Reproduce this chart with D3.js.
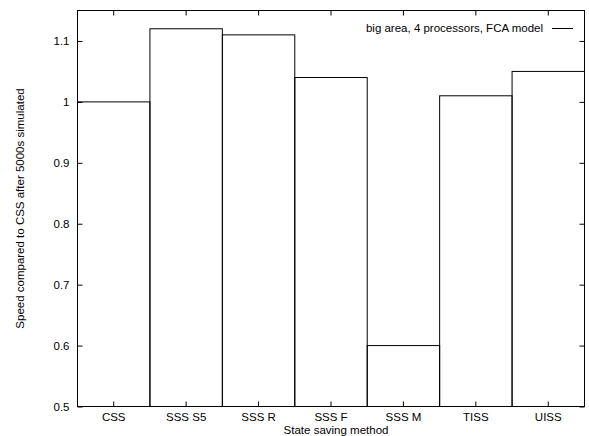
<!DOCTYPE html>
<html><head><meta charset="utf-8">
<script src="https://cdn.jsdelivr.net/npm/d3@7"></script>
<style>body{margin:0;background:#fff}text{font-family:"Liberation Sans",Arial,sans-serif;font-size:11.5px;fill:#000}</style>
</head><body><svg id="c" width="589" height="436"></svg>
<script>
const categories = ["CSS","SSS S5","SSS R","SSS F","SSS M","TISS","UISS"];
const values = [1.0,1.12,1.11,1.04,0.6,1.01,1.05];
const yTicks = [0.5,0.6,0.7,0.8,0.9,1,1.1];
const legendLabel = "big area, 4 processors, FCA model";

const svg = d3.select("#c");
const L=77.5, R=584.5, T=10.5, B=406.5;
const x = d3.scaleBand().domain(categories).range([L,R]).padding(0);
const y = d3.scaleLinear().domain([0.5,1.15]).range([B,T]);

// bars
svg.append("g").selectAll("rect").data(categories).join("rect")
  .attr("x",d=>x(d)).attr("width",x.bandwidth())
  .attr("y",(d,i)=>y(values[i])).attr("height",(d,i)=>B-y(values[i]))
  .attr("fill","none").attr("stroke","#000").attr("stroke-width",1);

const tl=5;
// left axis
const ya = d3.axisLeft(y).tickValues(yTicks).tickSize(-tl).tickPadding(8).tickFormat(d3.format("~g"));
const gl = svg.append("g").attr("transform",`translate(${L},0)`).call(ya);
gl.select(".domain").remove();
// right axis ticks
const gr = svg.append("g").attr("transform",`translate(${R},0)`).call(d3.axisRight(y).tickValues(yTicks).tickSize(-tl).tickFormat(""));
gr.select(".domain").remove();
// bottom axis
const xa = d3.axisBottom(x).tickSize(-tl).tickPadding(6);
const gb = svg.append("g").attr("transform",`translate(0,${B})`).call(xa);
gb.select(".domain").remove();
gb.selectAll("text").attr("dy",null).attr("y",14.5);
// top ticks
const gt = svg.append("g").attr("transform",`translate(0,${T})`).call(d3.axisTop(x).tickSize(-tl).tickFormat(""));
gt.select(".domain").remove();
svg.selectAll(".tick line").attr("stroke","#000");
svg.selectAll(".tick text").style("font-size","11.5px").attr("font-family","Liberation Sans, Arial, sans-serif");

// frame
svg.append("rect").attr("x",L).attr("y",T).attr("width",R-L).attr("height",B-T)
  .attr("fill","none").attr("stroke","#000").attr("stroke-width",1);

// titles
svg.append("text").attr("x",336).attr("y",433.5).attr("text-anchor","middle").text("State saving method");
svg.append("text").attr("transform",`translate(23.5,${(T+B)/2}) rotate(-90)`).attr("text-anchor","middle")
  .text("Speed compared to CSS after 5000s simulated");

// legend
svg.append("text").attr("x",543).attr("y",32).attr("text-anchor","end").text(legendLabel);
svg.append("line").attr("x1",552).attr("x2",573).attr("y1",28.5).attr("y2",28.5).attr("stroke","#000");
</script></body></html>
